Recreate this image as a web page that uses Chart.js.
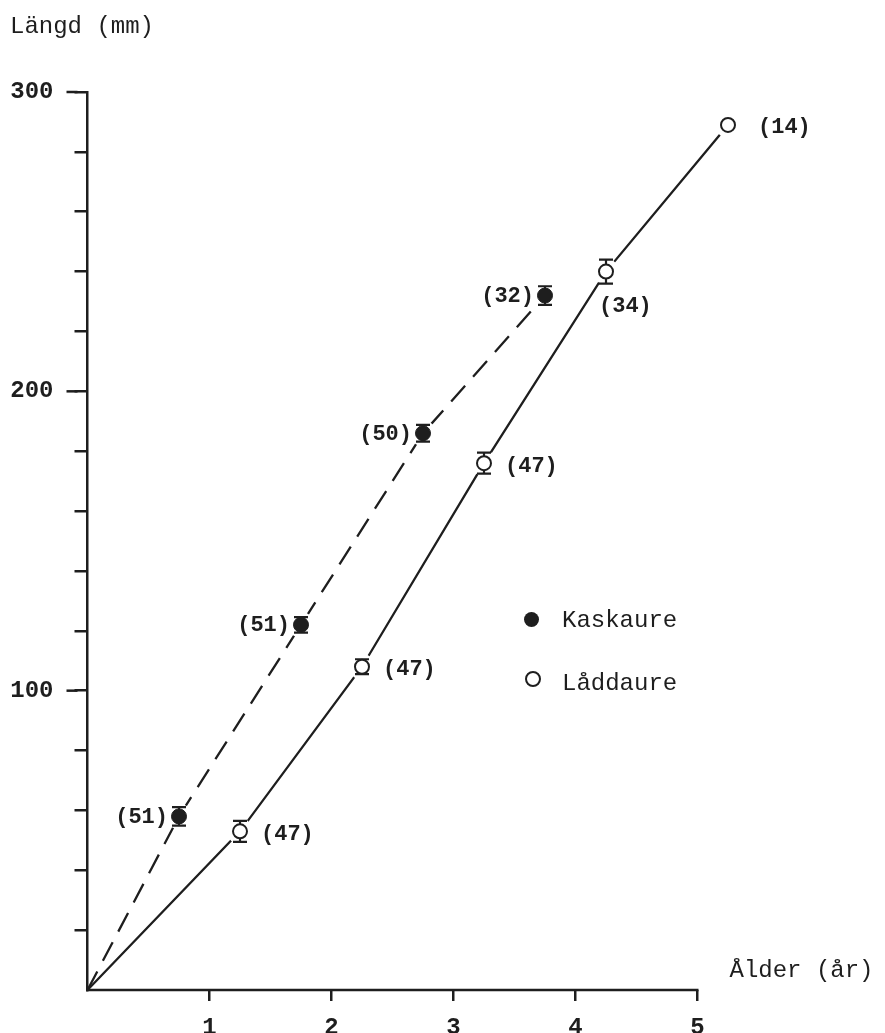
<!DOCTYPE html>
<html>
<head>
<meta charset="utf-8">
<title>Längd och ålder</title>
<script src="https://cdn.jsdelivr.net/npm/chart.js@4.4.1/dist/chart.umd.min.js"></script>
<style>
  html, body { margin: 0; padding: 0; background: #fff; }
  canvas { display: block; }
</style>
</head>
<body>
<canvas id="growthChart" width="885" height="1033"></canvas>
<script>
// Kaskaure - filled circles, dashed line
const kaskAge = [0.75, 1.75, 2.75, 3.75];
const kaskLen = [58, 122, 186, 232];
const kaskErr = [3.1, 2.6, 2.8, 3.1];
const kaskN = [51, 51, 50, 32];

// Låddaure - open circles, solid line
const laddAge = [1.25, 2.25, 3.25, 4.25, 5.25];
const laddLen = [53, 108, 176, 240, 289];
const laddErr = [3.5, 2.5, 3.5, 4, 0];
const laddN = [47, 47, 47, 34, 14];

// both curves start in the origin
const startAge = 0;
const startLen = 0;

const xTickLabels = [1, 2, 3, 4, 5];
const yTickLabels = [100, 200, 300];

const INK = '#1e1e1e';
const FONT = "'Liberation Mono', 'DejaVu Sans Mono', monospace";

function pts(xs, ys) {
    return xs.map(function (x, i) { return { x: x, y: ys[i] }; });
}

// error bars with caps
function drawErr(ctx, xs, ys, es, sx, sy) {
    xs.forEach(function (a, i) {
        if (!es[i]) return;
        const px = sx.getPixelForValue(a);
        const top = sy.getPixelForValue(ys[i] + es[i]);
        const bot = sy.getPixelForValue(ys[i] - es[i]);
        ctx.beginPath();
        ctx.moveTo(px, top); ctx.lineTo(px, bot);
        ctx.moveTo(px - 7, top); ctx.lineTo(px + 7, top);
        ctx.moveTo(px - 7, bot); ctx.lineTo(px + 7, bot);
        ctx.stroke();
    });
}

const studyMarks = {
    id: 'studyMarks',
    afterDatasetDraw: function (chart, args) {
        if (chart.data.datasets[args.index].id !== 'halo') return;
        const ctx = chart.ctx;
        const sx = chart.scales.x, sy = chart.scales.y;
        ctx.save();
        ctx.strokeStyle = INK;
        ctx.lineWidth = 2.2;
        drawErr(ctx, kaskAge, kaskLen, kaskErr, sx, sy);
        drawErr(ctx, laddAge, laddLen, laddErr, sx, sy);
        ctx.restore();
    },
    afterDraw: function (chart) {
        const ctx = chart.ctx;
        const sx = chart.scales.x, sy = chart.scales.y;
        const area = chart.chartArea;
        const xEnd = sx.getPixelForValue(xTickLabels[xTickLabels.length - 1]);
        ctx.save();
        ctx.fillStyle = INK;
        ctx.strokeStyle = INK;

        // x axis line stops at the last tick
        ctx.lineWidth = 2.5;
        ctx.beginPath();
        ctx.moveTo(area.left - 1, area.bottom);
        ctx.lineTo(xEnd + 1, area.bottom);
        ctx.stroke();

        // longer ticks at the labelled values
        yTickLabels.forEach(function (v) {
            const py = sy.getPixelForValue(v);
            ctx.beginPath();
            ctx.moveTo(area.left - 21, py);
            ctx.lineTo(area.left - 10, py);
            ctx.stroke();
        });

        // sample sizes
        ctx.font = 'bold 22px ' + FONT;
        ctx.textBaseline = 'middle';
        ctx.textAlign = 'right';
        kaskAge.forEach(function (a, i) {
            const px = sx.getPixelForValue(a);
            const py = sy.getPixelForValue(kaskLen[i]);
            ctx.fillText('(' + kaskN[i] + ')', px - 11, py + 1);
        });
        ctx.textAlign = 'left';
        laddAge.forEach(function (a, i) {
            const px = sx.getPixelForValue(a);
            const py = sy.getPixelForValue(laddLen[i]);
            if (i === 3) {
                ctx.textBaseline = 'top';
                ctx.fillText('(' + laddN[i] + ')', px - 7, py + 24);
                ctx.textBaseline = 'middle';
            } else {
                ctx.fillText('(' + laddN[i] + ')', px + (laddErr[i] ? 21 : 30), py + 3);
            }
        });

        // legend
        ctx.font = '24px ' + FONT;
        ctx.textBaseline = 'alphabetic';
        ctx.beginPath();
        ctx.arc(531.5, 619.5, 7.5, 0, Math.PI * 2);
        ctx.fill();
        ctx.fillText('Kaskaure', 562, 627);
        ctx.beginPath();
        ctx.lineWidth = 2;
        ctx.arc(533, 679, 7, 0, Math.PI * 2);
        ctx.stroke();
        ctx.fillText('Låddaure', 562, 690);

        // axis titles
        ctx.fillText('Längd (mm)', 10, 33);
        ctx.fillText('Ålder (år)', xEnd + 32, area.bottom - 13);
        ctx.restore();
    }
};

const ctx = document.getElementById('growthChart').getContext('2d');
const growthChart = new Chart(ctx, {
    type: 'scatter',
    data: {
        datasets: [
            {
                label: 'Kaskaure linje',
                data: [{ x: startAge, y: startLen }].concat(pts(kaskAge, kaskLen)),
                showLine: true,
                borderColor: INK,
                borderWidth: 2.3,
                borderDash: [21, 12],
                pointRadius: 0,
                clip: false,
                order: 3
            },
            {
                label: 'Låddaure linje',
                data: [{ x: startAge, y: startLen }].concat(pts(laddAge, laddLen)),
                showLine: true,
                borderColor: INK,
                borderWidth: 2.3,
                pointRadius: 0,
                clip: false,
                order: 3
            },
            {
                id: 'halo',
                label: 'halo',
                data: pts(kaskAge, kaskLen).concat(pts(laddAge, laddLen)),
                pointRadius: 13,
                pointBackgroundColor: '#fff',
                pointBorderWidth: 0,
                borderColor: '#fff',
                clip: false,
                order: 2
            },
            {
                label: 'Kaskaure',
                data: pts(kaskAge, kaskLen),
                pointRadius: 7.5,
                pointBackgroundColor: INK,
                pointBorderColor: INK,
                pointBorderWidth: 1,
                clip: false,
                order: 1
            },
            {
                label: 'Låddaure',
                data: pts(laddAge, laddLen),
                pointRadius: 7,
                pointBackgroundColor: '#fff',
                pointBorderColor: INK,
                pointBorderWidth: 2,
                clip: false,
                order: 1
            }
        ]
    },
    options: {
        responsive: false,
        animation: false,
        layout: { padding: { top: 92, right: 150.9, left: 0, bottom: 0 } },
        plugins: {
            legend: { display: false },
            tooltip: { enabled: false }
        },
        scales: {
            x: {
                type: 'linear',
                min: 0,
                max: 5.3,
                afterFit: function (scale) { scale.height = 43; },
                border: { display: false },
                grid: {
                    drawOnChartArea: false,
                    tickLength: 11,
                    lineWidth: 2.5,
                    color: function (c) { return c.tick && c.tick.value === 0 ? 'rgba(0,0,0,0)' : INK; }
                },
                ticks: {
                    stepSize: 1,
                    includeBounds: false,
                    padding: 13,
                    color: INK,
                    font: { family: FONT, size: 24, weight: 'bold' },
                    callback: function (v) { return xTickLabels.includes(v) ? String(v) : ''; }
                }
            },
            y: {
                min: 0,
                max: 300,
                afterFit: function (scale) { scale.width = 87.5; },
                border: { display: true, color: INK, width: 2.5 },
                grid: {
                    drawOnChartArea: false,
                    tickLength: 13,
                    lineWidth: 2.5,
                    color: function (c) { return c.tick && c.tick.value === 0 ? 'rgba(0,0,0,0)' : INK; }
                },
                ticks: {
                    stepSize: 20,
                    padding: 21,
                    color: INK,
                    font: { family: FONT, size: 24, weight: 'bold' },
                    callback: function (v) { return yTickLabels.includes(v) ? String(v) : ''; }
                }
            }
        }
    },
    plugins: [studyMarks]
});
</script>
</body>
</html>
